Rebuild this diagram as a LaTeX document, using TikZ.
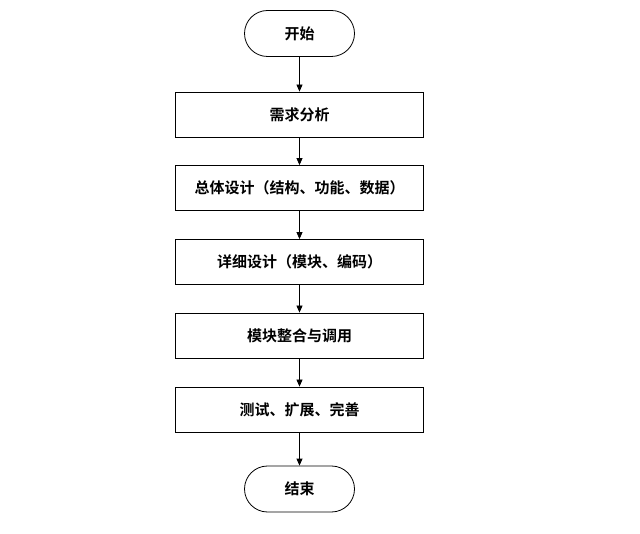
\documentclass[tikz,border=0pt]{standalone}
\usepackage{fontspec}
\newfontfamily\cjk{Noto Sans CJK SC}[BoldFont={Noto Sans CJK SC Bold}]
\usetikzlibrary{arrows.meta}
\begin{document}
\begin{tikzpicture}[x=1pt,y=-1pt,
  txt/.style={font=\cjk\fontsize{15pt}{17pt}\selectfont\bfseries, inner sep=0pt},
  procbox/.style={draw, line width=0.8pt, minimum width=248pt, minimum height=45pt, txt},
  term/.style={draw, line width=0.8pt, rounded corners=23pt, minimum width=110pt, minimum height=46pt, txt},
  conn/.style={line width=0.8pt, -{Triangle[length=7pt,width=6pt]}}]
\useasboundingbox (0,0) rectangle (640,534);
\node[term] (s) at (299.5,33.5) {开始};
\node[procbox] (b1) at (299.5,114.5) {需求分析};
\node[procbox] (b2) at (299.5,188) {总体设计（结构、功能、数据）};
\node[procbox] (b3) at (299.5,262) {详细设计（模块、编码）};
\node[procbox] (b4) at (299.5,335.5) {模块整合与调用};
\node[procbox] (b5) at (299.5,409.5) {测试、扩展、完善};
\node[term] (e) at (299.5,489) {结束};
\draw[conn] (s) -- (b1);
\draw[conn] (b1) -- (b2);
\draw[conn] (b2) -- (b3);
\draw[conn] (b3) -- (b4);
\draw[conn] (b4) -- (b5);
\draw[conn] (b5) -- (e);
\end{tikzpicture}
\end{document}
